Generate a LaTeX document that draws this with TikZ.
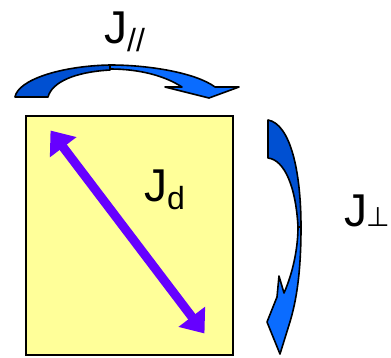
\documentclass[tikz,border=0pt]{standalone}
\usepackage{fontspec}
\setmainfont{Liberation Sans}
\newfontfamily\perpfont{DejaVu Sans}
\usetikzlibrary{arrows.meta}
\definecolor{cellyellow}{HTML}{FFFF99}
\definecolor{bonddark}{HTML}{0050D2}
\definecolor{bondlight}{HTML}{0A6CFF}
\definecolor{diagviolet}{HTML}{6600FF}

\begin{document}
\begin{tikzpicture}[x=1pt,y=-1pt,
  lbl/.style={anchor=base west,inner sep=0pt,font=\fontsize{46}{46}\selectfont},
  bandedge/.style={draw=black,line width=1.6pt,line join=round}]
\useasboundingbox (0,0) rectangle (391,358);
% square cell
\draw[fill=cellyellow,line width=2pt] (26,116) rectangle (233,355);
% diagonal coupling
\coordinate (dtop) at (50.5,130.5);
\coordinate (dbot) at (204.5,333.5);
\draw[diagviolet,line width=9pt,{Triangle[width=32pt,length=21pt]}-{Triangle[width=32pt,length=21pt]}] (dtop) -- (dbot);
% top curved arrow
\filldraw[bandedge,fill=bonddark] (15,97) .. controls (18,80) and (60,66) .. (110,65)
  -- (110,70) .. controls (75,72) and (52,82) .. (48,97) -- cycle;
\filldraw[bandedge,fill=bondlight] (110,65) .. controls (150,65) and (196,73) .. (215,87)
  -- (239,87) -- (209,98) -- (165,87) -- (182,87) .. controls (165,76) and (140,69) .. (110,69) -- cycle;
% right curved arrow
\filldraw[bandedge,fill=bonddark] (268,120) .. controls (290,124) and (301,170) .. (301,227)
  -- (298,227) .. controls (296,188) and (285,160) .. (268,158) -- cycle;
\filldraw[bandedge,fill=bondlight] (301,227) .. controls (301,270) and (297,300) .. (289,325)
  -- (280,354) -- (267,322) -- (277,297) -- (279,276) -- (284,293)
  .. controls (292,275) and (298,250) .. (298,227) -- cycle;
% labels
\node[lbl] (jpar) at (104,44) {J\lower8pt\hbox{\fontsize{32}{32}\selectfont //}};
\node[lbl] (jd) at (144,202) {J\lower8pt\hbox{\fontsize{32}{32}\selectfont d}};
\node[lbl] (jperp) at (344,227) {J\kern-1pt\hbox{\perpfont\fontsize{27}{27}\selectfont ⊥}};
\end{tikzpicture}
\end{document}
